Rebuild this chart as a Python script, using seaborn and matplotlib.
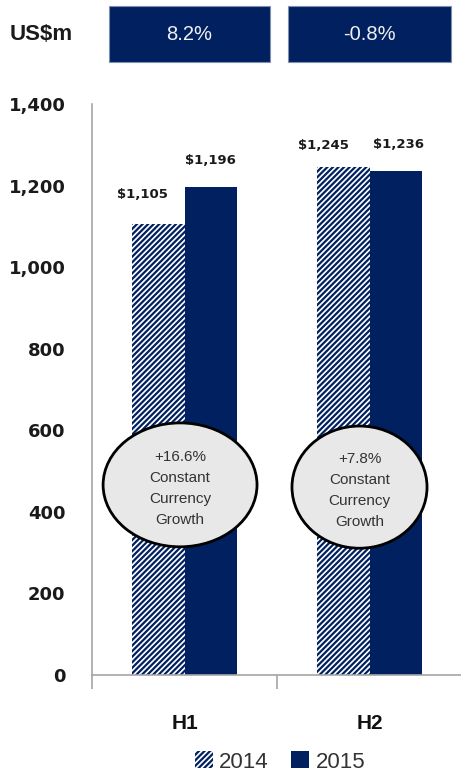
import matplotlib
matplotlib.use("Agg")
import matplotlib.pyplot as plt
from matplotlib.patches import Ellipse, Rectangle, Patch
from matplotlib.ticker import FuncFormatter, FixedLocator
import seaborn as sns
import pandas as pd

# Revenue by half-year, US$m
halves = ["H1", "H2"]
years = ["2014", "2015"]
revenue_2014 = [1105, 1245]
revenue_2015 = [1196, 1236]
reported_growth = ["8.2%", "-0.8%"]
cc_growth = ["+16.6%", "+7.8%"]
y_ticks = [0, 200, 400, 600, 800, 1000, 1200, 1400]

NAVY = "#002060"

sns.set_theme(style="white")
plt.rcParams["font.family"] = ["DejaVu Sans"]
plt.rcParams["hatch.linewidth"] = 1.6
plt.rcParams["hatch.color"] = NAVY

df = pd.DataFrame({
    "half": halves * 2,
    "year": [years[0]] * 2 + [years[1]] * 2,
    "revenue": revenue_2014 + revenue_2015,
})

W, H = 461, 775
fig = plt.figure(figsize=(W / 100, H / 100), dpi=100)
ax = fig.add_axes([92 / W, 100 / H, 370 / W, 571 / H])

sns.barplot(data=df, x="half", y="revenue", hue="year", hue_order=years,
            palette=[NAVY, NAVY], width=0.57, gap=0, ax=ax,
            errorbar=None, legend=False, saturation=1)

# 2014 bars drawn as navy diagonal hatch on white
for bar in ax.containers[0]:
    bar.set_facecolor("white")
    bar.set_edgecolor(NAVY)
    bar.set_hatch("//////")
    bar.set_linewidth(0)
for bar in ax.containers[1]:
    bar.set_linewidth(0)

ax.set_xlim(-0.5, 1.5)
ax.set_ylim(0, 1400)
ax.yaxis.set_major_locator(FixedLocator(y_ticks))
ax.yaxis.set_major_formatter(FuncFormatter(lambda v, p: f"{int(v):,}"))
ax.set_xlabel("")
ax.set_ylabel("")

for s in ["top", "right"]:
    ax.spines[s].set_visible(False)
for s in ["left", "bottom"]:
    ax.spines[s].set_color("#a6a6a6")
    ax.spines[s].set_linewidth(1.2)

ax.tick_params(axis="y", length=0, pad=19, labelsize=13)
for lab in ax.get_yticklabels():
    lab.set_fontweight("bold")
    lab.set_color("#1a1a1a")
ax.tick_params(axis="x", which="major", length=0, pad=28, labelsize=15)
for lab in ax.get_xticklabels():
    lab.set_fontweight("bold")
    lab.set_fontfamily("Liberation Sans")
    lab.set_color("#111111")
ax.xaxis.set_minor_locator(FixedLocator([-0.5, 0.5, 1.5]))
ax.tick_params(axis="x", which="minor", length=10, width=1.2, color="#a6a6a6",
               direction="out", bottom=True)

# value labels above the bars
label_shift = [[(-16, 30), (-20, 22)], [(0, 27), (3, 26)]]
for ci, cont in enumerate(ax.containers):
    for bi, bar in enumerate(cont):
        val = bar.get_height()
        dx, dy = label_shift[ci][bi]
        ax.annotate(f"${int(val):,}", (bar.get_x() + bar.get_width() / 2, val),
                    xytext=(dx, dy), textcoords="offset pixels",
                    ha="center", va="center", fontsize=9.5,
                    fontweight="bold", color="#1a1a1a")

# constant-currency growth callouts
callouts = [(0.238, 0.333, 0.416, 0.217), (0.723, 0.329, 0.365, 0.214)]
for (cx, cy, ew, eh), txt in zip(callouts, cc_growth):
    ax.add_patch(Ellipse((cx, cy), ew, eh, transform=ax.transAxes,
                         facecolor="#e8e8e8", edgecolor="black", lw=2,
                         zorder=5))
    ax.text(cx, cy - 0.006, f"{txt}\nConstant\nCurrency\nGrowth",
            transform=ax.transAxes, ha="center", va="center",
            fontsize=11, family="Liberation Sans", color="#333333",
            linespacing=1.62, zorder=6)

# reported growth boxes along the top
boxes = [(109, 270), (288, 451)]
for (x0, x1), txt in zip(boxes, reported_growth):
    fig.patches.append(Rectangle((x0 / W, 1 - 62 / H), (x1 - x0) / W, 56 / H,
                                 transform=fig.transFigure,
                                 facecolor=NAVY, edgecolor="#7f8fb0", lw=0.8))
    fig.text((x0 + x1) / 2 / W, 1 - 34 / H, txt, ha="center", va="center",
             color="#f0f0f0", fontsize=14.5, family="Liberation Sans")

fig.text(10 / W, 1 - 34 / H, "US$m", ha="left", va="center", fontsize=16,
         fontweight="bold", family="Liberation Sans", color="#1a1a1a")

handles = [Patch(facecolor="white", edgecolor=NAVY, hatch="//////", lw=0),
           Patch(facecolor=NAVY, edgecolor=NAVY, lw=0)]
fig.legend(handles, years, loc="center", bbox_to_anchor=(280 / W, 1 - 762 / H),
           ncol=2, frameon=False, handlelength=0.8,
           handleheight=0.8, handletextpad=0.3, columnspacing=1.0,
           prop={"family": "Liberation Sans", "size": 16})
for t in fig.legends[0].get_texts():
    t.set_color("#333333")

fig.savefig("out.png", dpi=100)
